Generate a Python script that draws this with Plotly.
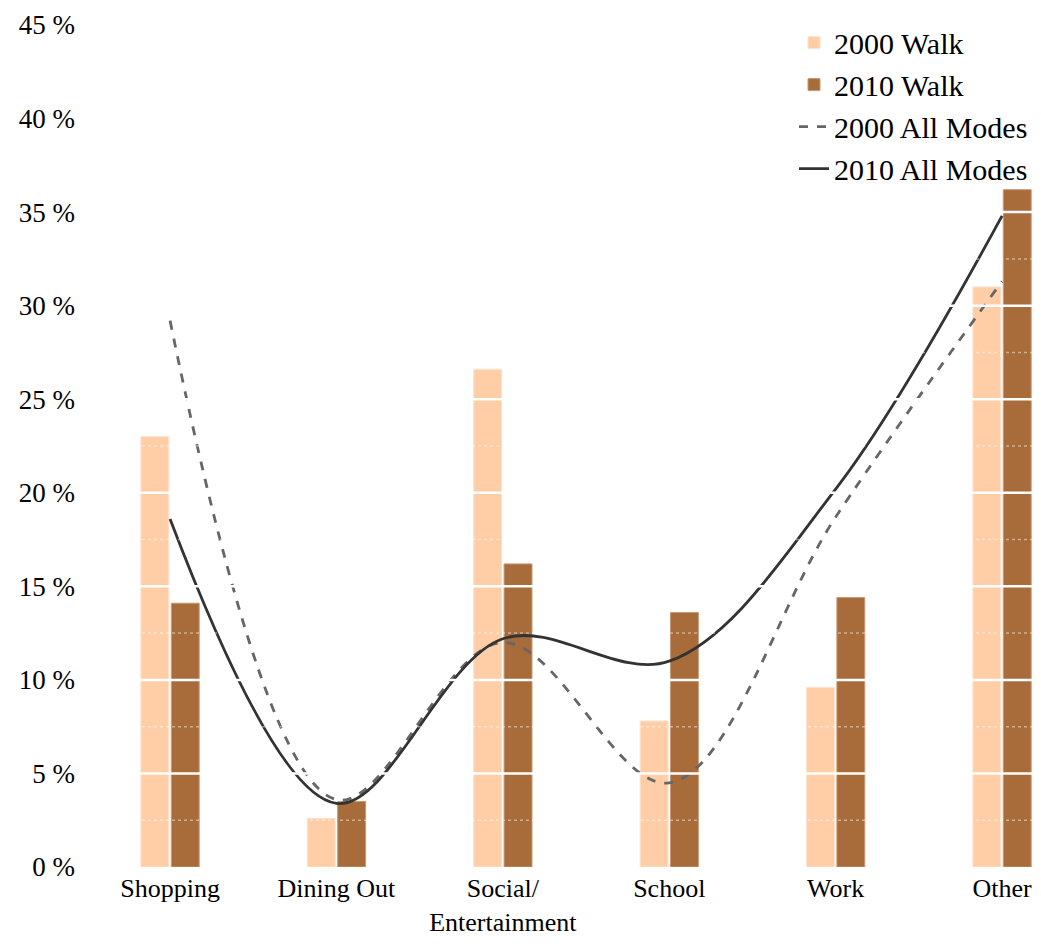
import plotly.graph_objects as go

# ---------------------------------------------------------------- DATA
categories = ["Shopping", "Dining Out", "Social/<br>Entertainment", "School", "Work", "Other"]
walk_2000 = [23.0, 2.6, 26.6, 7.8, 9.6, 31.0]
walk_2010 = [14.1, 3.5, 16.2, 13.6, 14.4, 36.2]
all_modes_2000 = [29.2, 3.6, 12.0, 4.5, 18.7, 31.3]
all_modes_2010 = [18.6, 3.4, 12.2, 11.0, 20.2, 34.8]
y_ticks = [0, 5, 10, 15, 20, 25, 30, 35, 40, 45]
y_minor = [2.5, 7.5, 12.5, 17.5, 22.5, 27.5, 32.5, 37.5, 42.5]

x_pos = list(range(len(categories)))
serif = "Liberation Serif, Times New Roman, serif"

fig = go.Figure()

fig.add_trace(go.Bar(
    x=x_pos, y=walk_2000, name="2000 Walk",
    marker=dict(color="#FFCEA6", line=dict(color="#FFE2CC", width=1))))
fig.add_trace(go.Bar(
    x=x_pos, y=walk_2010, name="2010 Walk",
    marker=dict(color="#A86B3A", line=dict(color="#C99A78", width=1))))

fig.add_trace(go.Scatter(
    x=x_pos, y=all_modes_2000, name="2000 All Modes", mode="lines",
    line=dict(color="#666666", width=2.8, dash="dash", shape="spline", smoothing=1.0)))
fig.add_trace(go.Scatter(
    x=x_pos, y=all_modes_2010, name="2010 All Modes", mode="lines",
    line=dict(color="#333333", width=2.8, shape="spline", smoothing=1.0)))

# white grid drawn over the data, as in the original
for v in y_ticks[1:]:
    fig.add_shape(type="line", xref="paper", x0=0, x1=1, yref="y", y0=v, y1=v,
                  line=dict(color="white", width=2.5), layer="above")
for v in y_minor:
    fig.add_shape(type="line", xref="paper", x0=0, x1=1, yref="y", y0=v, y1=v,
                  line=dict(color="rgba(255,255,255,0.45)", width=1.5, dash="dot"), layer="above")

# the page body has an 8px margin on every side, so keep the figure inside it
fig.update_layout(
    width=1025, height=935,
    margin=dict(l=92, r=0, t=17, b=76),
    plot_bgcolor="white", paper_bgcolor="white",
    barmode="group", bargap=0.635, bargroupgap=0.08,
    font=dict(family=serif, size=26, color="black"),
    showlegend=True,
    legend=dict(x=1.0, y=1.01, xanchor="right", yanchor="top",
                font=dict(family=serif, size=30), bgcolor="rgba(0,0,0,0)",
                tracegroupgap=0, itemwidth=30),
)

fig.update_xaxes(
    range=[-0.421, 5.186], tickvals=x_pos, ticktext=categories,
    showgrid=False, zeroline=False, showline=False, ticks="",
    tickfont=dict(family=serif, size=26), ticklabelstandoff=3,
    automargin=False, ticklabeloverflow="allow")
fig.update_yaxes(
    range=[0, 45], tickvals=y_ticks, ticktext=[f"{v} %" for v in y_ticks],
    showgrid=False, zeroline=False, showline=False, ticks="",
    tickfont=dict(family=serif, size=27), ticklabelstandoff=24,
    automargin=False, ticklabeloverflow="allow")

fig.write_html("out.html")
